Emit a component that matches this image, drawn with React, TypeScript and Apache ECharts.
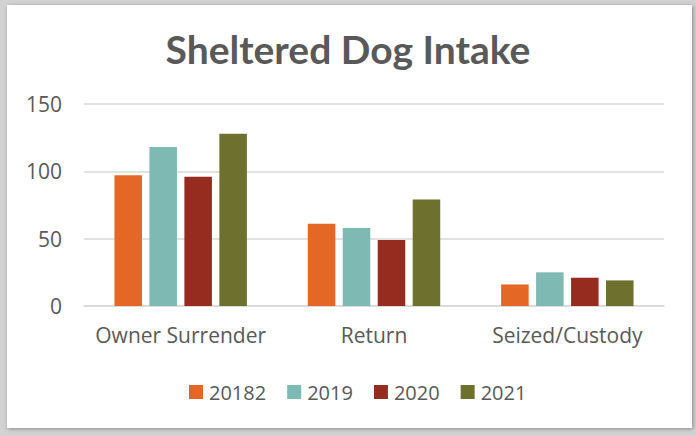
import React, { useEffect, useRef } from "react";
import * as echarts from "echarts";

const categories = ["Owner Surrender", "Return", "Seized/Custody"];
const seriesNames = ["20182", "2019", "2020", "2021"];
const values2018 = [97, 61, 16];
const values2019 = [118, 58, 25];
const values2020 = [96, 49, 21];
const values2021 = [128, 79, 19];
const colors = ["#E46726", "#7FB9B3", "#952C1F", "#6E702E"];
const yTicks = { min: 0, max: 150, interval: 50 };

export default function App() {
  const ref = useRef<HTMLDivElement>(null);
  useEffect(() => {
    if (!ref.current) return;
    const chart = echarts.init(ref.current, null, { renderer: "svg" });
    const font = "'Open Sans', sans-serif";
    const data = [values2018, values2019, values2020, values2021];
    chart.setOption({
      animation: false,
      backgroundColor: "#d2d2d2",
      graphic: [
        {
          type: "rect",
          z: -10,
          shape: { x: 7, y: 5, width: 685, height: 423 },
          style: {
            fill: "#ffffff",
            shadowBlur: 4,
            shadowColor: "rgba(0,0,0,0.35)",
            shadowOffsetX: 1,
            shadowOffsetY: 1,
          },
        },
      ],
      title: {
        text: "Sheltered Dog Intake",
        left: "center",
        top: 24,
        textStyle: {
          fontFamily: "'Century Gothic', 'Lato', sans-serif",
          fontWeight: "bold",
          fontSize: 39,
          color: "#595959",
        },
      },
      color: colors,
      grid: { left: 84, right: 32, top: 104, bottom: 130 },
      xAxis: {
        type: "category",
        data: categories,
        axisLine: { lineStyle: { color: "#d9d9d9", width: 1.5 } },
        axisTick: { show: false },
        axisLabel: {
          color: "#595959",
          fontFamily: font,
          fontSize: 21,
          margin: 18,
          interval: 0,
        },
      },
      yAxis: {
        type: "value",
        min: yTicks.min,
        max: yTicks.max,
        interval: yTicks.interval,
        axisLine: { show: false },
        axisTick: { show: false },
        splitLine: { lineStyle: { color: "#d9d9d9", width: 1.5 } },
        axisLabel: {
          color: "#595959",
          fontFamily: font,
          fontSize: 21,
          margin: 22,
        },
      },
      legend: {
        data: seriesNames,
        left: 184,
        top: 377,
        itemWidth: 14,
        itemHeight: 14,
        itemGap: 21,
        icon: "rect",
        textStyle: { color: "#595959", fontFamily: font, fontSize: 20, padding: [0, 0, 0, 1] },
      },
      series: seriesNames.map((name, i) => ({
        name,
        type: "bar",
        data: data[i],
        barGap: "27%",
        barCategoryGap: "31.5%",
        itemStyle: { color: colors[i] },
      })),
    });
    return () => chart.dispose();
  }, []);
  return (
    <div
      ref={ref}
      style={{ position: "fixed", left: 0, top: 0, width: 696, height: 436 }}
    />
  );
}
